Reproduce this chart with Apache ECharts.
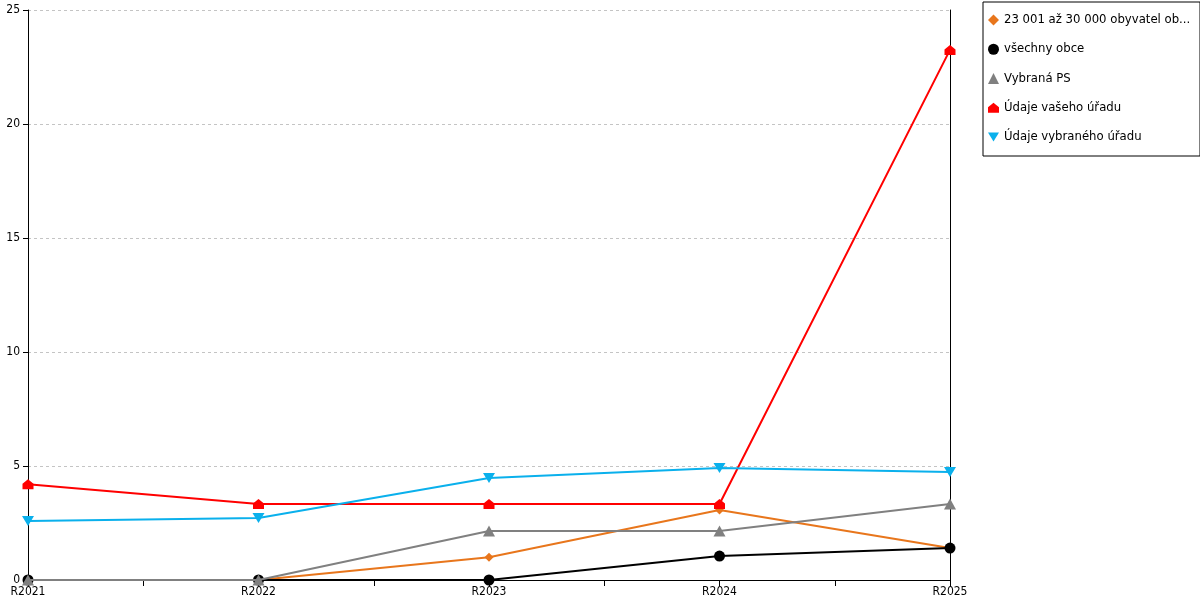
<!DOCTYPE html>
<html>
<head>
<meta charset="utf-8">
<script src="https://cdn.jsdelivr.net/npm/echarts@6/dist/echarts.min.js"></script>
<style>
  html, body { margin: 0; padding: 0; background: #fff; }
  #chart { width: 1200px; height: 600px; }
</style>
</head>
<body>
<div id="chart"></div>
<script>
const years = ['R2021', 'R2022', 'R2023', 'R2024', 'R2025'];
const names = ['23 001 až 30 000 obyvatel obce s rozšířenou působností', 'všechny obce', 'Vybraná PS', 'Údaje vašeho úřadu', 'Údaje vybraného úřadu'];
const obyvatel = [0, 0, 1.0, 3.07, 1.4];
const vsechnyObce = [0, 0, 0, 1.05, 1.4];
const vybranaPS = [0, 0, 2.15, 2.15, 3.33];
const vasUrad = [4.2, 3.33, 3.33, 3.33, 23.25];
const vybranyUrad = [2.59, 2.72, 4.47, 4.91, 4.74];
const yTicks = [0, 5, 10, 15, 20, 25];

const HOUSE = 'path://M5.5,0 L11,4.5 L11,10 L0,10 L0,4.5 Z';
const DOWN = 'path://M0,0 L12,0 L6,10 Z';

const colors = ['#e8761c', '#000000', '#808080', '#ff0000', '#0ab0ec'];
const symbols = ['diamond', 'circle', 'triangle', HOUSE, DOWN];
const sizes = [[9, 9], [11, 11], [12, 11], [11, 10], [12, 10]];
const values = [obyvatel, vsechnyObce, vybranaPS, vasUrad, vybranyUrad];

const chart = echarts.init(document.getElementById('chart'));
const font = 'DejaVu Sans';
const axisFont = '"DejaVu Sans Condensed", "DejaVu Sans"';

chart.setOption({
  animation: false,
  grid: { left: 28, right: 250, top: 10, bottom: 20 },
  legend: {
    orient: 'vertical',
    left: 983,
    top: 2,
    padding: [11, 8, 12, 5],
    itemWidth: 11,
    itemHeight: 11,
    itemGap: 15.25,
    borderColor: '#000',
    borderWidth: 1,
    data: names.map((n, i) => ({ name: n, icon: symbols[i] })),
    textStyle: {
      fontFamily: font, fontSize: 11.7, color: '#000',
      width: 188, overflow: 'truncate', ellipsis: '...', lineHeight: 14
    }
  },
  xAxis: {
    type: 'value',
    min: 0, max: years.length - 1, interval: 0.5,
    axisLine: { lineStyle: { color: '#000', width: 1 } },
    axisTick: { show: true, length: 6, lineStyle: { color: '#000' } },
    splitLine: { show: false },
    axisLabel: {
      fontFamily: axisFont, fontSize: 12, color: '#000', margin: 6,
      formatter: v => Number.isInteger(v) ? years[v] : ''
    }
  },
  yAxis: [
    {
      type: 'value', min: yTicks[0], max: yTicks[yTicks.length - 1], interval: 5,
      axisLine: { show: true, lineStyle: { color: '#000' } },
      axisTick: { show: true, length: 5, lineStyle: { color: '#000' } },
      splitLine: { show: true, lineStyle: { color: '#c4c4c4', type: [3, 3], width: 1 } },
      axisLabel: { fontFamily: axisFont, fontSize: 12, color: '#000', margin: 8 }
    },
    {
      type: 'value', position: 'right', min: 0, max: 25, interval: 5,
      axisLine: { show: true, lineStyle: { color: '#000' } },
      axisTick: { show: false }, axisLabel: { show: false }, splitLine: { show: false }
    }
  ],
  series: names.map((n, i) => ({
    name: n,
    type: 'line',
    data: values[i].map((v, k) => [k, v]),
    symbol: symbols[i],
    symbolSize: sizes[i],
    showAllSymbol: true,
    lineStyle: { color: colors[i], width: 2 },
    itemStyle: { color: colors[i] },
    z: 2 + i
  }))
});
</script>
</body>
</html>
